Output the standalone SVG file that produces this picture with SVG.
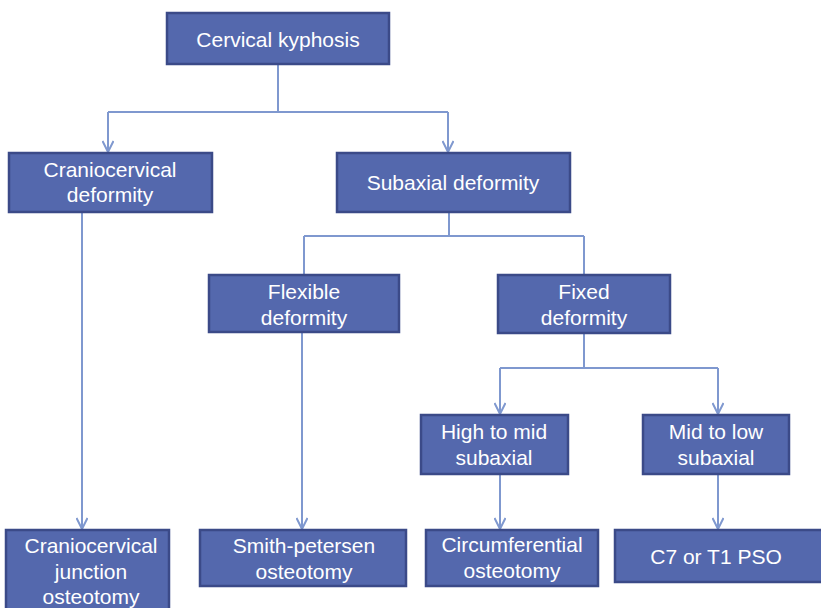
<svg xmlns="http://www.w3.org/2000/svg" width="821" height="608" viewBox="0 0 821 608">
<style>
.box{fill:#5468AD;stroke:#3B4A88;stroke-width:2.5}
.t{font-family:"Liberation Sans",Arial,sans-serif;font-size:21px;fill:#FFFFFF;text-anchor:middle}
.c{fill:none;stroke:#7F98CF;stroke-width:2}
</style>
<defs>
<marker id="ah" markerWidth="14" markerHeight="12" refX="12" refY="6" orient="auto" markerUnits="userSpaceOnUse">
<polyline points="1,0.5 12,6 1,11.5" fill="none" stroke="#7F98CF" stroke-width="2"/>
</marker>
</defs>
<rect width="821" height="608" fill="#FFFFFF"/>
<g id="connectors">
<polyline class="c" points="278,64 278,112"/>
<polyline class="c" points="108,112 448,112"/>
<line class="c" x1="108" y1="112" x2="108" y2="152" marker-end="url(#ah)"/>
<line class="c" x1="448" y1="112" x2="448" y2="152" marker-end="url(#ah)"/>
<polyline class="c" points="449,212 449,236"/>
<polyline class="c" points="304,236 584,236"/>
<line class="c" x1="304" y1="236" x2="304" y2="275"/>
<line class="c" x1="584" y1="236" x2="584" y2="275"/>
<line class="c" x1="82" y1="212" x2="82" y2="529" marker-end="url(#ah)"/>
<line class="c" x1="302" y1="332" x2="302" y2="529" marker-end="url(#ah)"/>
<polyline class="c" points="584,333 584,368"/>
<polyline class="c" points="500,368 718,368"/>
<line class="c" x1="500" y1="368" x2="500" y2="414" marker-end="url(#ah)"/>
<line class="c" x1="718" y1="368" x2="718" y2="414" marker-end="url(#ah)"/>
<line class="c" x1="500" y1="474" x2="500" y2="529" marker-end="url(#ah)"/>
<line class="c" x1="718" y1="474" x2="718" y2="529" marker-end="url(#ah)"/>
</g>
<g id="cervical-kyphosis">
<rect class="box" x="167" y="13" width="222" height="51"/>
<text class="t" x="278" y="47">Cervical kyphosis</text>
</g>
<g id="craniocervical-deformity">
<rect class="box" x="9" y="153" width="203" height="59"/>
<text class="t" x="110" y="177">Craniocervical</text>
<text class="t" x="110" y="202">deformity</text>
</g>
<g id="subaxial-deformity">
<rect class="box" x="337" y="153" width="233" height="59"/>
<text class="t" x="453" y="190">Subaxial deformity</text>
</g>
<g id="flexible-deformity">
<rect class="box" x="209" y="275" width="190" height="57"/>
<text class="t" x="304" y="299">Flexible</text>
<text class="t" x="304" y="325">deformity</text>
</g>
<g id="fixed-deformity">
<rect class="box" x="498" y="275" width="172" height="58"/>
<text class="t" x="584" y="299">Fixed</text>
<text class="t" x="584" y="325">deformity</text>
</g>
<g id="high-to-mid">
<rect class="box" x="421" y="415" width="147" height="59"/>
<text class="t" x="494" y="439">High to mid</text>
<text class="t" x="494" y="465">subaxial</text>
</g>
<g id="mid-to-low">
<rect class="box" x="643" y="415" width="146" height="59"/>
<text class="t" x="716" y="439">Mid to low</text>
<text class="t" x="716" y="465">subaxial</text>
</g>
<g id="craniocervical-junction-osteotomy">
<rect class="box" x="6" y="530" width="163" height="90"/>
<text class="t" x="91" y="553">Craniocervical</text>
<text class="t" x="91" y="579">junction</text>
<text class="t" x="91" y="604">osteotomy</text>
</g>
<g id="smith-petersen">
<rect class="box" x="200" y="530" width="206" height="56"/>
<text class="t" x="304" y="553">Smith-petersen</text>
<text class="t" x="304" y="579">osteotomy</text>
</g>
<g id="circumferential">
<rect class="box" x="426" y="530" width="172" height="56"/>
<text class="t" x="512" y="552">Circumferential</text>
<text class="t" x="512" y="578">osteotomy</text>
</g>
<g id="c7-t1-pso">
<rect class="box" x="615" y="530" width="210" height="52"/>
<text class="t" x="716" y="564">C7 or T1 PSO</text>
</g>
</svg>
